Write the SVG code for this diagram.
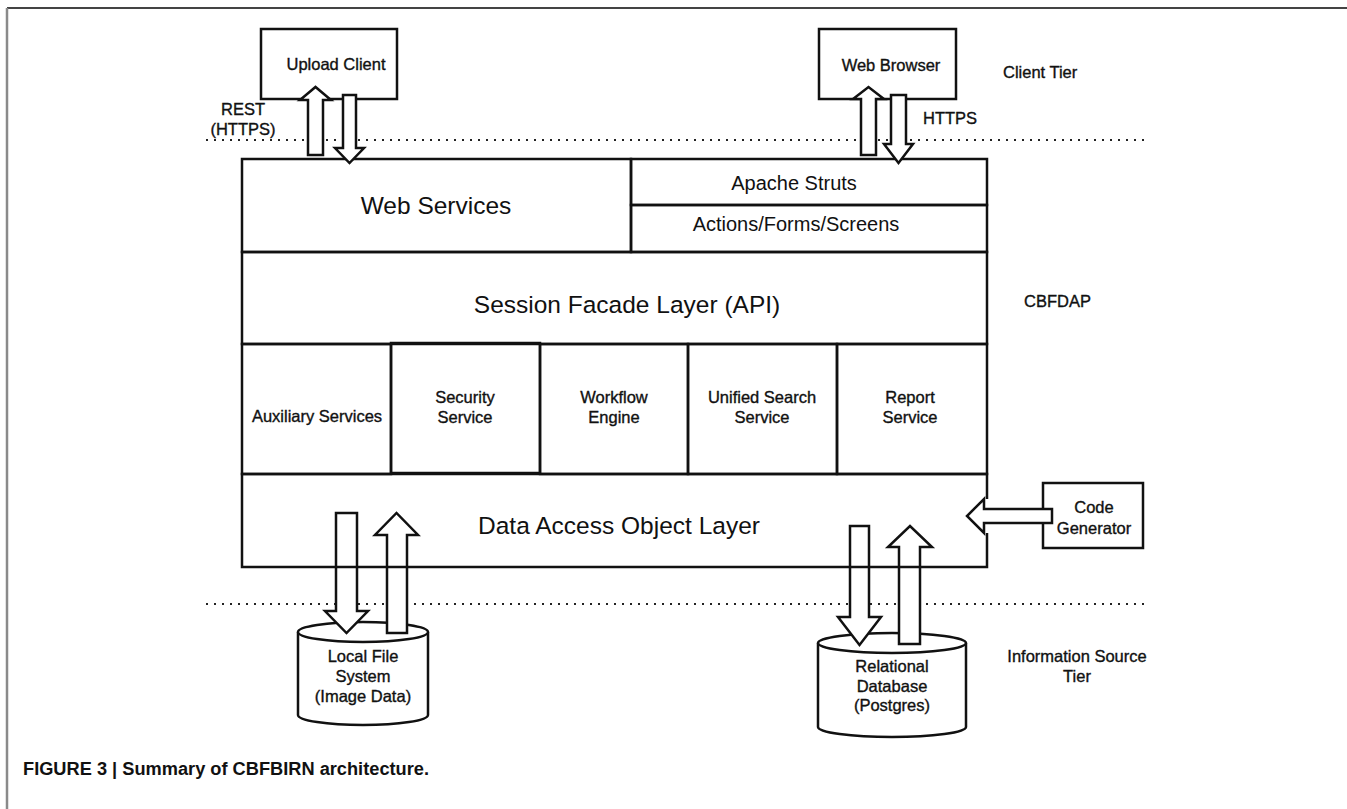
<svg xmlns="http://www.w3.org/2000/svg" width="1347" height="809" viewBox="0 0 1347 809">
<style>
  text { font-family: "Liberation Sans", Arial, sans-serif; fill: #111; }
  .lbl { font-size: 16.5px; stroke: #111; stroke-width: 0.35px; }
  .mid { font-size: 20px; }
  .big { font-size: 24.5px; }
  .c { text-anchor: middle; }
  .box { fill: #fff; stroke: #111; stroke-width: 2.5; }
  .layer { fill: none; stroke: #111; stroke-width: 2.5; }
  .arrow { fill: #fff; stroke: #111; stroke-width: 2.5; stroke-linejoin: miter; }
  .tier { stroke: #222; stroke-width: 2; stroke-dasharray: 2 6; fill: none; }
  .cap { font-size: 18px; font-weight: bold; }
</style>
<rect x="0" y="0" width="1347" height="809" fill="#fff"/>
<g id="frame">
  <line x1="7" y1="8" x2="1347" y2="8" stroke="#444" stroke-width="2"/>
  <line x1="7" y1="8" x2="7" y2="809" stroke="#8a8a8a" stroke-width="2.5"/>
</g>
<g id="tier-lines">
  <line class="tier" x1="206" y1="140" x2="1150" y2="140"/>
  <line class="tier" x1="206" y1="604" x2="1150" y2="604"/>
</g>
<g id="tier-labels">
  <text class="lbl" x="1003" y="78">Client Tier</text>
  <text class="lbl" x="1024" y="307">CBFDAP</text>
  <text class="lbl c" x="1077" y="662">Information Source</text>
  <text class="lbl c" x="1077" y="682">Tier</text>
  <text class="lbl c" x="243" y="115">REST</text>
  <text class="lbl c" x="243" y="135">(HTTPS)</text>
  <text class="lbl" x="923" y="124">HTTPS</text>
</g>
<g id="upload-client">
  <rect class="box" x="261" y="29" width="136" height="70"/>
  <text class="lbl c" x="336" y="70">Upload Client</text>
</g>
<g id="web-browser">
  <rect class="box" x="819" y="29" width="137" height="70"/>
  <text class="lbl c" x="891" y="71">Web Browser</text>
</g>
<g id="code-generator">
  <rect class="box" x="1043" y="483" width="100" height="65"/>
  <text class="lbl c" x="1094" y="513">Code</text>
  <text class="lbl c" x="1094" y="534">Generator</text>
</g>
<g id="local-file-system">
  <path class="box" d="M298,632 L298,715 A65,10 0 0 0 428,715 L428,632"/>
  <ellipse class="box" cx="363" cy="632" rx="65" ry="10"/>
  <text class="lbl c" x="363" y="662">Local File</text>
  <text class="lbl c" x="363" y="682">System</text>
  <text class="lbl c" x="363" y="702">(Image Data)</text>
</g>
<g id="relational-database">
  <path class="box" d="M818,643 L818,727 A74,10 0 0 0 966,727 L966,643"/>
  <ellipse class="box" cx="892" cy="643" rx="74" ry="10"/>
  <text class="lbl c" x="892" y="672">Relational</text>
  <text class="lbl c" x="892" y="692">Database</text>
  <text class="lbl c" x="892" y="711">(Postgres)</text>
</g>
<g id="web-services">
  <rect class="layer" x="242" y="159" width="389" height="93"/>
  <text class="big c" x="436" y="214">Web Services</text>
</g>
<g id="apache-struts">
  <rect class="layer" x="631" y="159" width="356" height="46"/>
  <text class="mid c" x="794" y="190">Apache Struts</text>
</g>
<g id="actions-forms-screens">
  <rect class="layer" x="631" y="205" width="356" height="47"/>
  <text class="mid c" x="796" y="231">Actions/Forms/Screens</text>
</g>
<g id="session-facade">
  <rect class="layer" x="242" y="252" width="745" height="92"/>
  <text class="big c" x="627" y="313">Session Facade Layer (API)</text>
</g>
<g id="auxiliary-services">
  <rect class="layer" x="242" y="344" width="149" height="130"/>
  <text class="lbl c" x="317" y="422">Auxiliary Services</text>
</g>
<g id="security-service">
  <rect class="layer" x="391" y="343" width="149" height="130"/>
  <text class="lbl c" x="465" y="403">Security</text>
  <text class="lbl c" x="465" y="423">Service</text>
</g>
<g id="workflow-engine">
  <rect class="layer" x="540" y="344" width="148" height="130"/>
  <text class="lbl c" x="614" y="403">Workflow</text>
  <text class="lbl c" x="614" y="423">Engine</text>
</g>
<g id="unified-search-service">
  <rect class="layer" x="688" y="344" width="149" height="130"/>
  <text class="lbl c" x="762" y="403">Unified Search</text>
  <text class="lbl c" x="762" y="423">Service</text>
</g>
<g id="report-service">
  <rect class="layer" x="837" y="344" width="150" height="130"/>
  <text class="lbl c" x="910" y="403">Report</text>
  <text class="lbl c" x="910" y="423">Service</text>
</g>
<g id="connectors">
  <path class="arrow" d="M308,155 L308,100 L300,100 L315.5,87 L331,100 L323,100 L323,155 Z"/>
  <path class="arrow" d="M343,95 L356,95 L356,148 L364,148 L349.5,163 L335,148 L343,148 Z"/>
  <path class="arrow" d="M861,155 L861,99 L853,99 L868.5,87 L884,99 L876,99 L876,155 Z"/>
  <path class="arrow" d="M891,95 L906,95 L906,144 L913,144 L898.5,163 L884,144 L891,144 Z"/>
  <path class="arrow" d="M336,513 L357,513 L357,611 L368,611 L346.5,633 L325,611 L336,611 Z"/>
  <path class="arrow" d="M387,633 L387,535 L375,535 L396.5,513 L418,535 L407,535 L407,633 Z"/>
  <path class="arrow" d="M850,526 L869,526 L869,617 L881,617 L859.5,645 L838,617 L850,617 Z"/>
  <path class="arrow" d="M899,644 L899,547 L888,547 L910,526 L932,547 L920,547 L920,644 Z"/>
  <path class="arrow" d="M1052,509 L984,509 L984,499 L967,516 L984,533 L984,523 L1052,523 Z"/>
</g>
<g id="data-access-object-layer">
  <path class="layer" d="M987,499 L987,474 L242,474 L242,567 L987,567 L987,533"/>
  <text class="big c" x="619" y="534">Data Access Object Layer</text>
</g>
<g id="caption">
  <text class="cap" x="23" y="775" textLength="406" lengthAdjust="spacingAndGlyphs">FIGURE 3 | Summary of CBFBIRN architecture.</text>
</g>
</svg>
